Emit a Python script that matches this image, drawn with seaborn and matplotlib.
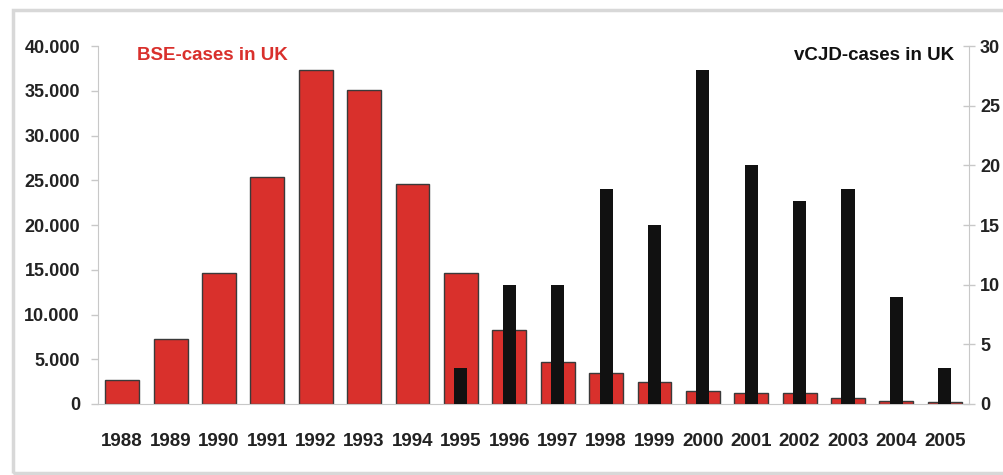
import matplotlib
matplotlib.use("Agg")
import matplotlib.pyplot as plt
from matplotlib.patches import Rectangle
from matplotlib.ticker import FuncFormatter, FixedLocator
import seaborn as sns
import pandas as pd

years = [str(y) for y in range(1988, 2006)]
bse_cases = [2700, 7300, 14600, 25400, 37300, 35100, 24600, 14600, 8300,
             4700, 3500, 2500, 1450, 1250, 1200, 700, 350, 200]
vcjd_cases = [0, 0, 0, 0, 0, 0, 0, 3, 10, 10, 18, 15, 28, 20, 17, 18, 9, 3]

red = "#d9302c"
black = "#111111"
spine_grey = "#c8c8c8"

sns.set_style("white")
plt.rcParams["font.family"] = ["Liberation Sans", "DejaVu Sans"]
plt.rcParams["font.weight"] = "bold"

df = pd.DataFrame({"year": years, "bse": bse_cases, "vcjd": vcjd_cases})

fig = plt.figure(figsize=(10.04, 4.75), dpi=100)
ax = fig.add_axes([0.0976, 0.1495, 0.8675, 0.7535])

sns.barplot(data=df, x="year", y="bse", color=red, width=0.7,
            edgecolor="#3a3a3a", linewidth=1, saturation=1, ax=ax)
ax2 = ax.twinx()
sns.barplot(data=df, x="year", y="vcjd", color=black, width=0.27,
            linewidth=0, saturation=1, ax=ax2)

ax.set_xlim(-0.5, len(years) - 0.5)
ax.set_ylim(0, 40000)
ax2.set_ylim(0, 30)
ax.set_yticks(range(0, 40001, 5000))
ax2.set_yticks(range(0, 31, 5))
ax.yaxis.set_major_formatter(FuncFormatter(lambda v, p: f"{v:,.0f}".replace(",", ".")))

for a in (ax, ax2):
    a.set_xlabel("")
    a.set_ylabel("")
    for s in a.spines.values():
        s.set_visible(False)

ax.spines["left"].set_visible(True)
ax.spines["left"].set_color(spine_grey)
ax.spines["bottom"].set_visible(True)
ax.spines["bottom"].set_color(spine_grey)
ax2.spines["right"].set_visible(True)
ax2.spines["right"].set_color(spine_grey)

ax.tick_params(axis="y", which="major", direction="out", length=5, width=1,
               color=spine_grey, pad=8, labelsize=13, labelcolor="#222222")
ax2.tick_params(axis="y", which="major", direction="inout", length=8, width=1,
                color=spine_grey, pad=4, labelsize=13, labelcolor="#222222")
ax.tick_params(axis="x", which="major", length=0, pad=21, labelsize=13.5,
               labelcolor="#222222")
ax.xaxis.set_minor_locator(FixedLocator([i - 0.5 for i in range(len(years) + 1)]))
ax.tick_params(axis="x", which="minor", direction="out", length=4, width=1,
               color=spine_grey)

ax.text(0.045, 0.975, "BSE-cases in UK", transform=ax.transAxes, color=red,
        fontsize=13.5, fontweight="bold", ha="left", va="center")
ax2.text(0.983, 0.975, "vCJD-cases in UK", transform=ax2.transAxes, color=black,
         fontsize=13.5, fontweight="bold", ha="right", va="center")

fig.patches.append(Rectangle((13 / 1004, 2 / 475), 1.2, 463 / 475,
                             transform=fig.transFigure, fill=False,
                             edgecolor="#d8d8d8", linewidth=2.5))

fig.savefig("out.png", dpi=100)
